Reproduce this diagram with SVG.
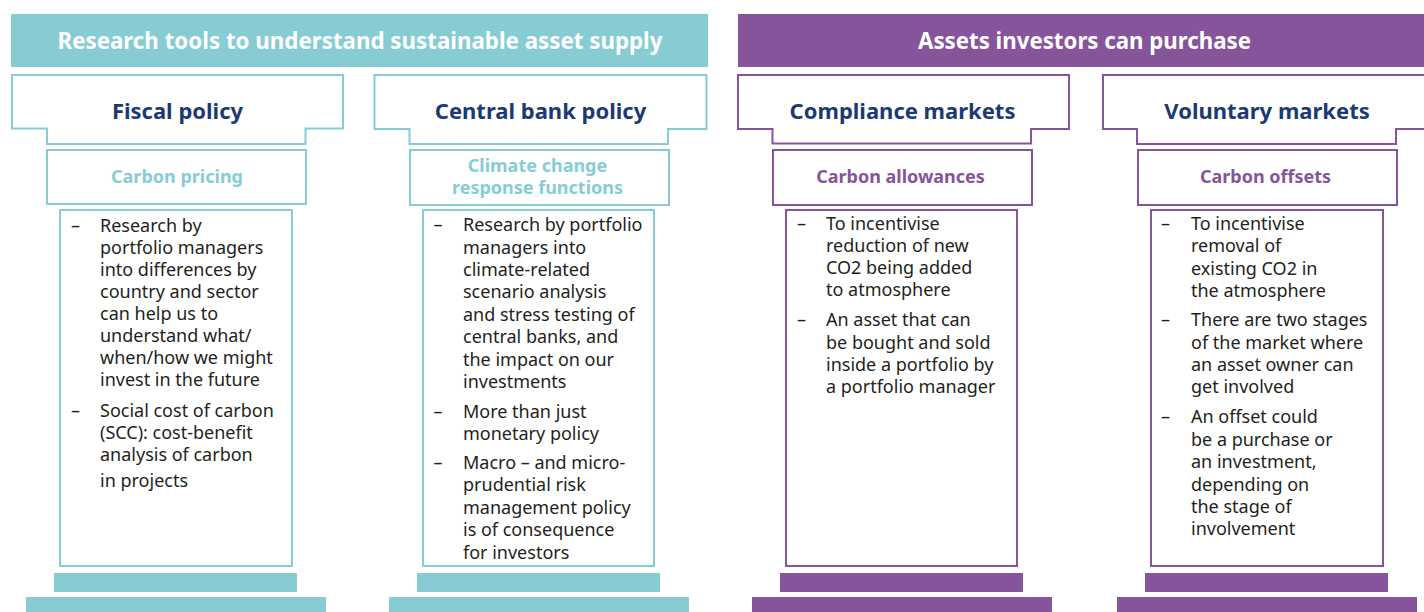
<svg xmlns="http://www.w3.org/2000/svg" width="1424" height="612" viewBox="0 0 1424 612">
  <style>
    text { font-family: "Noto Sans", "Open Sans", "Liberation Sans", sans-serif; }
    .band { fill: #ffffff; font-weight: 700; font-size: 24px; text-anchor: middle; }
    .title { fill: #1b3a73; font-weight: 700; font-size: 22px; text-anchor: middle; }
    .sub { font-weight: 700; font-size: 18px; text-anchor: middle; }
    .body { fill: #231f20; font-size: 18px; }
    .teal-line { fill: #ffffff; stroke: #88ccd3; stroke-width: 2; }
    .purple-line { fill: #ffffff; stroke: #85549b; stroke-width: 2; }
    .teal-fill { fill: #88ccd3; }
    .purple-fill { fill: #85549b; }
    .teal-text { fill: #88ccd3; }
    .purple-text { fill: #85549b; }
  </style>

  <!-- Section bands -->
  <g id="band-research">
    <rect class="teal-fill" x="11" y="14" width="697" height="53"/>
    <text class="band" x="360" y="49" textLength="605" lengthAdjust="spacingAndGlyphs">Research tools to understand sustainable asset supply</text>
  </g>
  <g id="band-assets">
    <rect class="purple-fill" x="738" y="14" width="686" height="53"/>
    <text class="band" x="1084.5" y="49" textLength="333" lengthAdjust="spacingAndGlyphs">Assets investors can purchase</text>
  </g>

  <!-- Pillar 1: Fiscal policy -->
  <g id="pillar-fiscal">
    <path class="teal-line" d="M12,75 H343 V128.5 H305.5 V144 H47 V128.5 H12 Z"/>
    <text class="title" x="177.5" y="119">Fiscal policy</text>
    <rect class="teal-line" x="47" y="150" width="259" height="54"/>
    <text class="sub teal-text" x="177" y="183">Carbon pricing</text>
    <rect class="teal-line" x="60" y="210" width="232" height="356"/>
    <text class="body">
      <tspan x="71" y="232">–</tspan>
      <tspan x="100" y="232">Research by</tspan>
      <tspan x="100" y="254">portfolio managers</tspan>
      <tspan x="100" y="276">into differences by</tspan>
      <tspan x="100" y="298">country and sector</tspan>
      <tspan x="100" y="320">can help us to</tspan>
      <tspan x="100" y="342">understand what/</tspan>
      <tspan x="100" y="364">when/how we might</tspan>
      <tspan x="100" y="386">invest in the future</tspan>
      <tspan x="71" y="417">–</tspan>
      <tspan x="100" y="417">Social cost of carbon</tspan>
      <tspan x="100" y="439">(SCC): cost-benefit</tspan>
      <tspan x="100" y="461">analysis of carbon</tspan>
      <tspan x="100" y="487">in projects</tspan>
    </text>
    <rect class="teal-fill" x="54" y="573" width="243" height="19"/>
    <rect class="teal-fill" x="26" y="597" width="300" height="15"/>
  </g>

  <!-- Pillar 2: Central bank policy -->
  <g id="pillar-central-bank">
    <path class="teal-line" d="M374.5,75 H706.5 V129 H668 V144 H409.5 V129 H374.5 Z"/>
    <text class="title" x="540.5" y="119">Central bank policy</text>
    <rect class="teal-line" x="410" y="150" width="259" height="55"/>
    <text class="sub teal-text" x="537.5" y="172">Climate change</text>
    <text class="sub teal-text" x="537.5" y="194">response functions</text>
    <rect class="teal-line" x="423" y="210" width="231" height="356"/>
    <text class="body">
      <tspan x="433.5" y="231">–</tspan>
      <tspan x="463" y="231">Research by portfolio</tspan>
      <tspan x="463" y="253.5">managers into</tspan>
      <tspan x="463" y="276">climate-related</tspan>
      <tspan x="463" y="298">scenario analysis</tspan>
      <tspan x="463" y="320.5">and stress testing of</tspan>
      <tspan x="463" y="343">central banks, and</tspan>
      <tspan x="463" y="365.5">the impact on our</tspan>
      <tspan x="463" y="388">investments</tspan>
      <tspan x="433.5" y="417.5">–</tspan>
      <tspan x="463" y="417.5">More than just</tspan>
      <tspan x="463" y="440">monetary policy</tspan>
      <tspan x="433.5" y="468.5">–</tspan>
      <tspan x="463" y="468.5">Macro – and micro-</tspan>
      <tspan x="463" y="491">prudential risk</tspan>
      <tspan x="463" y="513.5">management policy</tspan>
      <tspan x="463" y="536">is of consequence</tspan>
      <tspan x="463" y="558.5">for investors</tspan>
    </text>
    <rect class="teal-fill" x="417" y="573" width="243" height="19"/>
    <rect class="teal-fill" x="389" y="597" width="300" height="15"/>
  </g>

  <!-- Pillar 3: Compliance markets -->
  <g id="pillar-compliance">
    <path class="purple-line" d="M738,75 H1069 V129 H1031 V143.5 H772.5 V129 H738 Z"/>
    <text class="title" x="902.5" y="119">Compliance markets</text>
    <rect class="purple-line" x="773" y="150" width="259" height="55"/>
    <text class="sub purple-text" x="900.5" y="183">Carbon allowances</text>
    <rect class="purple-line" x="786" y="210" width="231" height="356"/>
    <text class="body">
      <tspan x="797" y="230">–</tspan>
      <tspan x="826" y="230">To incentivise</tspan>
      <tspan x="826" y="252">reduction of new</tspan>
      <tspan x="826" y="274">CO2 being added</tspan>
      <tspan x="826" y="296">to atmosphere</tspan>
      <tspan x="797" y="326">–</tspan>
      <tspan x="826" y="326">An asset that can</tspan>
      <tspan x="826" y="348.5">be bought and sold</tspan>
      <tspan x="826" y="371">inside a portfolio by</tspan>
      <tspan x="826" y="393">a portfolio manager</tspan>
    </text>
    <rect class="purple-fill" x="780" y="573" width="243" height="19"/>
    <rect class="purple-fill" x="752" y="597" width="300" height="15"/>
  </g>

  <!-- Pillar 4: Voluntary markets -->
  <g id="pillar-voluntary">
    <path class="purple-line" d="M1103,75 H1434 V129 H1396 V144 H1137 V129 H1103 Z"/>
    <text class="title" x="1267" y="119">Voluntary markets</text>
    <rect class="purple-line" x="1138" y="150" width="259" height="55"/>
    <text class="sub purple-text" x="1265.5" y="183">Carbon offsets</text>
    <rect class="purple-line" x="1151" y="210" width="232" height="356"/>
    <text class="body">
      <tspan x="1161" y="230">–</tspan>
      <tspan x="1191" y="230">To incentivise</tspan>
      <tspan x="1191" y="252">removal of</tspan>
      <tspan x="1191" y="275">existing CO2 in</tspan>
      <tspan x="1191" y="297">the atmosphere</tspan>
      <tspan x="1161" y="326">–</tspan>
      <tspan x="1191" y="326">There are two stages</tspan>
      <tspan x="1191" y="348.5">of the market where</tspan>
      <tspan x="1191" y="371">an asset owner can</tspan>
      <tspan x="1191" y="393">get involved</tspan>
      <tspan x="1161" y="423">–</tspan>
      <tspan x="1191" y="423">An offset could</tspan>
      <tspan x="1191" y="445.5">be a purchase or</tspan>
      <tspan x="1191" y="468">an investment,</tspan>
      <tspan x="1191" y="491">depending on</tspan>
      <tspan x="1191" y="513">the stage of</tspan>
      <tspan x="1191" y="535">involvement</tspan>
    </text>
    <rect class="purple-fill" x="1145" y="573" width="243" height="19"/>
    <rect class="purple-fill" x="1117" y="597" width="300" height="15"/>
  </g>
</svg>
